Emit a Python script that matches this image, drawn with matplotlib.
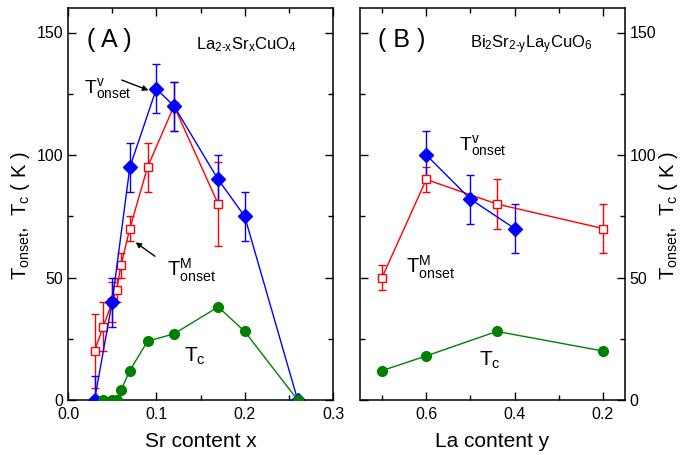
import matplotlib
matplotlib.use("Agg")
import matplotlib.pyplot as plt
from matplotlib.ticker import MultipleLocator, FormatStrFormatter

plt.rcParams['font.family'] = ['Liberation Sans', 'DejaVu Sans']
plt.rcParams['mathtext.fontset'] = 'custom'
plt.rcParams['mathtext.rm'] = 'Liberation Sans'
plt.rcParams['mathtext.it'] = 'Liberation Sans:italic'

# Panel A: La2-xSrxCuO4
a_v_x = [0.03, 0.05, 0.07, 0.10, 0.12, 0.17, 0.20, 0.26]
a_v_y = [0, 40, 95, 127, 120, 90, 75, 0]
a_v_err = [10, 10, 10, 10, 10, 10, 10, 0]

a_m_x = [0.03, 0.04, 0.05, 0.055, 0.06, 0.07, 0.09, 0.12, 0.17]
a_m_y = [20, 30, 40, 45, 55, 70, 95, 120, 80]
a_m_err = [15, 10, 8, 5, 5, 5, 10, 10, 17]

a_c_x = [0.04, 0.05, 0.055, 0.06, 0.07, 0.09, 0.12, 0.17, 0.20, 0.26]
a_c_y = [0, 0, 0, 4, 12, 24, 27, 38, 28, 0]

# Panel B: Bi2Sr2-yLayCuO6
b_v_x = [0.6, 0.5, 0.4]
b_v_y = [100, 82, 70]
b_v_err = [10, 10, 10]

b_m_x = [0.7, 0.6, 0.44, 0.2]
b_m_y = [50, 90, 80, 70]
b_m_err = [5, 5, 10, 10]

b_c_x = [0.7, 0.6, 0.44, 0.2]
b_c_y = [12, 18, 28, 20]

BLUE = '#0000ff'
RED = '#ff0000'
GREEN = '#008000'

fig = plt.figure(figsize=(6.82, 4.55), dpi=100)
axA = fig.add_axes([68/682, 1-400/455, (333-68)/682, 392/455])
axB = fig.add_axes([360/682, 1-400/455, (625-360)/682, 392/455])

ylabel = r'$\mathrm{T_{onset}}$,  $\mathrm{T_{c}}$ ( K )'

def style(ax):
    ax.set_ylim(0, 160)
    ax.yaxis.set_major_locator(MultipleLocator(50))
    ax.yaxis.set_minor_locator(MultipleLocator(25))
    ax.tick_params(which='both', direction='in', top=True, right=True,
                   labelsize=11.5)
    ax.tick_params(which='major', length=6, width=1)
    ax.tick_params(axis='x', which='major', pad=5)
    ax.tick_params(which='minor', length=3.5, width=1)
    for s in ax.spines.values():
        s.set_linewidth(1.1)

def series(ax, x, y, err, color, marker, ms, mfc):
    ax.errorbar(x, y, yerr=err, color=color, marker=marker, ms=ms, mfc=mfc,
                mec=color, lw=1, elinewidth=1, capsize=3, capthick=1, zorder=3)

# Panel A
series(axA, a_m_x, a_m_y, a_m_err, RED, 's', 6, 'white')
series(axA, a_v_x, a_v_y, a_v_err, BLUE, 'D', 7, BLUE)
axA.plot(a_c_x, a_c_y, color=GREEN, marker='o', ms=7, lw=1, zorder=4)
axA.set_xlim(0.0, 0.3)
axA.xaxis.set_major_locator(MultipleLocator(0.1))
axA.xaxis.set_minor_locator(MultipleLocator(0.05))
axA.xaxis.set_major_formatter(FormatStrFormatter('%.1f'))
style(axA)
axA.set_xlabel('Sr content x', fontsize=15, labelpad=7)
axA.set_ylabel(ylabel, fontsize=14.5)
axA.yaxis.set_label_coords(-0.136, 0.47)

axA.text(0.022, 147, '( A )', fontsize=18, ha='left', va='center')
axA.text(0.145, 145, r'$\mathrm{La_{2\text{-}x}Sr_{x}CuO_{4}}$', fontsize=12, ha='left', va='center')
axA.text(0.018, 127, r'$\mathrm{T^{v}_{onset}}$', fontsize=14, ha='left', va='center')
axA.annotate('', xy=(0.094, 126), xytext=(0.058, 131),
             arrowprops=dict(arrowstyle='-|>', color='black', lw=1, mutation_scale=8))
axA.text(0.112, 53, r'$\mathrm{T^{M}_{onset}}$', fontsize=14.5, ha='left', va='center')
axA.annotate('', xy=(0.074, 65), xytext=(0.101, 58),
             arrowprops=dict(arrowstyle='-|>', color='black', lw=1, mutation_scale=8))
axA.text(0.131, 18, r'$\mathrm{T_{c}}$', fontsize=15, ha='left', va='center')

# Panel B
series(axB, b_m_x, b_m_y, b_m_err, RED, 's', 6, 'white')
series(axB, b_v_x, b_v_y, b_v_err, BLUE, 'D', 7, BLUE)
axB.plot(b_c_x, b_c_y, color=GREEN, marker='o', ms=7, lw=1, zorder=4)
axB.set_xlim(0.75, 0.15)
axB.xaxis.set_major_locator(MultipleLocator(0.2))
axB.xaxis.set_minor_locator(MultipleLocator(0.1))
axB.xaxis.set_major_formatter(FormatStrFormatter('%.1f'))
style(axB)
axB.tick_params(axis='y', which='both', labelleft=False, labelright=True)
axB.yaxis.set_label_position('right')
axB.set_xlabel('La content y', fontsize=15, labelpad=7)
axB.set_ylabel(ylabel, fontsize=14.5, rotation=90)
axB.yaxis.set_label_coords(1.120, 0.47)

axB.text(0.71, 147, '( B )', fontsize=18, ha='left', va='center')
axB.text(0.50, 145, r'$\mathrm{Bi_{2}Sr_{2\text{-}y}La_{y}CuO_{6}}$', fontsize=12, ha='left', va='center')
axB.text(0.525, 104, r'$\mathrm{T^{v}_{onset}}$', fontsize=14, ha='left', va='center')
axB.text(0.645, 54, r'$\mathrm{T^{M}_{onset}}$', fontsize=14.5, ha='left', va='center')
axB.text(0.48, 16, r'$\mathrm{T_{c}}$', fontsize=15, ha='left', va='center')

fig.savefig('out.png', dpi=100)
